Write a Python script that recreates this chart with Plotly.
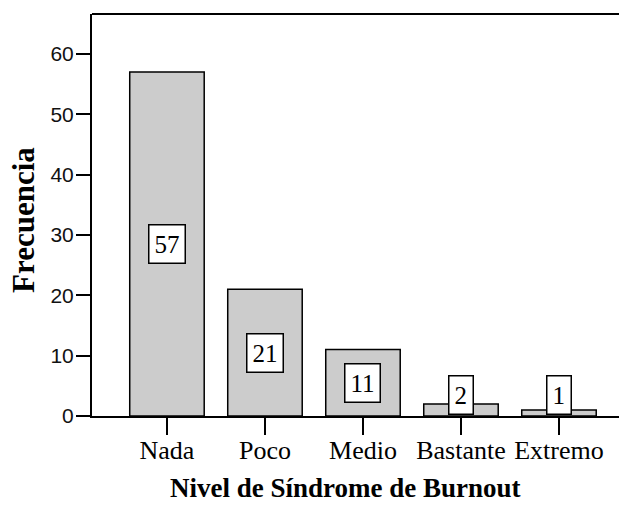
import plotly.graph_objects as go

categories = ["Nada", "Poco", "Medio", "Bastante", "Extremo"]
frecuencia = [57, 21, 11, 2, 1]
y_ticks = [0, 10, 20, 30, 40, 50, 60]

SERIF = "Liberation Serif, Times New Roman, serif"
SANS = "Liberation Sans, Arial, sans-serif"

# page body has an 8px default margin: figure spans page px 8..627 x 8..506
OFF = 8
W, H = 627 - OFF, 506 - OFF
L, T, R, B = 92 - OFF, 14 - OFF, 0, 90
PW, PH = W - L - R, H - T - B


def px_to_paper(px, py):
    return (px - OFF - L) / PW, 1 - (py - OFF - T) / PH


fig = go.Figure()
fig.add_trace(go.Bar(
    x=list(range(len(categories))),
    y=frecuencia,
    width=0.76,
    marker=dict(color="#cccccc", line=dict(color="black", width=1.5)),
    hoverinfo="skip",
))

# value labels in white boxes at the middle of each bar (kept above the axis)
for i, v in enumerate(frecuencia):
    fig.add_annotation(
        x=i, y=max(v / 2, 3.4), xref="x", yref="y",
        text=str(v), showarrow=False,
        font=dict(family=SERIF, size=25, color="black"),
        bgcolor="white", bordercolor="black", borderwidth=1.5, borderpad=5,
        xanchor="center", yanchor="middle",
    )

# axis titles
tx, ty = px_to_paper(345, 488)
fig.add_annotation(
    x=tx, y=ty, xref="paper", yref="paper", text="<b>Nivel de Síndrome de Burnout</b>",
    showarrow=False, font=dict(family=SERIF, size=27, color="black"),
    xanchor="center", yanchor="middle",
)
yx, yy = px_to_paper(23, 220)
fig.add_annotation(
    x=yx, y=yy, xref="paper", yref="paper", text="<b>Frecuencia</b>", textangle=-90,
    showarrow=False, font=dict(family=SERIF, size=31, color="black"),
    xanchor="center", yanchor="middle",
)

fig.update_layout(
    width=W, height=H,
    margin=dict(l=L, r=R, t=T, b=B),
    plot_bgcolor="white", paper_bgcolor="white",
    showlegend=False,
    xaxis=dict(
        range=[-0.765, 4.694],
        tickmode="array", tickvals=list(range(len(categories))), ticktext=categories,
        ticks="outside", ticklen=17, tickwidth=2, tickcolor="black",
        ticklabelstandoff=-7,
        showline=True, linecolor="black", linewidth=2,
        showgrid=False, zeroline=False,
        tickfont=dict(family=SERIF, size=26, color="black"),
    ),
    yaxis=dict(
        range=[0, 66.6],
        tickmode="array", tickvals=y_ticks,
        ticks="outside", ticklen=14, tickwidth=2, tickcolor="black",
        ticklabelstandoff=-2,
        showline=True, linecolor="black", linewidth=2,
        showgrid=False, zeroline=False,
        tickfont=dict(family=SANS, size=21, color="#111111"),
    ),
    shapes=[dict(type="line", xref="paper", yref="paper", x0=0, x1=1, y0=1, y1=1,
                 line=dict(color="black", width=2))],
)

fig.write_html("out.html")
